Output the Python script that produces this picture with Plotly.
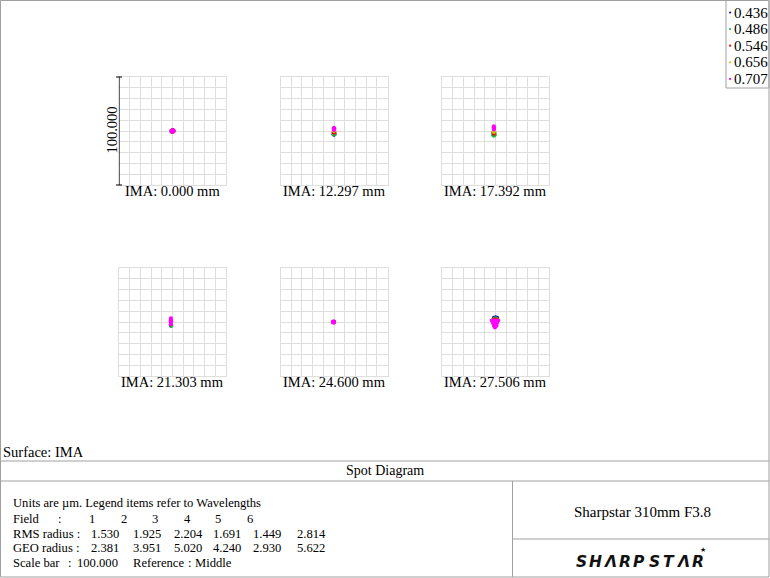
import plotly.graph_objects as go

W, H = 770, 578

FIELD_LABELS = ["IMA: 0.000 mm", "IMA: 12.297 mm", "IMA: 17.392 mm",
                "IMA: 21.303 mm", "IMA: 24.600 mm", "IMA: 27.506 mm"]
WAVELENGTHS = ["0.436", "0.486", "0.546", "0.656", "0.707"]
WAVE_COLORS = ["#1010b8", "#22bb44", "#e01010", "#c8c800", "#ff00ff"]

# Spot points in micrometres, indexed [field][wavelength]
SPOT_X = [
    [[-1, 1, 0, 0, 0], [-1, 1, 0, 0, 0], [-1, 1, 0, 0, 0], [-1, 1, 0, 0, 0], [-1, 1, 0, 0, 0, 0.8, -0.8]],
    [[0, 0.5, -0.5], [0, -0.5, 0.5], [0, -0.5, 0.5], [0, 0], [0, 0, 0, 0.4, -0.4]],
    [[-1.5, -1.5], [-2.5, -0.5, -1.5], [-2, -1, -1.5], [-1.5, -1.5], [-1.5, -1.5, -1.5, -1.2, -1.8]],
    [[-1.5], [-1.5, -1], [-1.5], [-1.5], [-1.5, -1.5, -1.5, -1.5, -1.2, -1.8]],
    [[-0.5, 0], [-0.5, 0], [-0.5, 0], [-0.5, 0], [-0.5, -0.5, -1.2, 0.2, -0.5]],
    [[-1.5, 0, 1.5, -0.5, 0.5], [-1, 0, 1], [-2, 0, 2], [-3, 0, 2.5],
     [-3.5, -1.5, 0.5, 2.5, -2.5, -0.5, 1.5, -1.5, 0, 1, -0.5]],
]
SPOT_Y = [
    [[0, 0, 1, -1, 0], [0, 0, 1, -1, 0], [0, 0, 1, -1, 0], [0, 0, 1, -1, 0], [0, 0, 1, -1, 0, 0.8, -0.8]],
    [[-3.5, -3, -3], [-2.5, -3, -3], [-1, -1.5, -1.5], [0, 0.8], [1, 2, 3, 2, 2]],
    [[-4, -3], [-3.5, -3.5, -4.5], [-1.5, -1.5, -2.5], [0, -1], [1.5, 3, 4.5, 3, 3]],
    [[-3.5], [-3, -3.5], [-2], [-1], [-2, 0, 2, 3.5, 1, 1]],
    [[0, 0], [0, 0], [0, 0], [0, 0], [0.8, -0.8, 0, 0, 0]],
    [[4, 4.5, 4, 3.5, 3.5], [3, 3.5, 3], [2, 2.5, 2], [1.5, 1, 1.5],
     [1.5, 1.5, 1.5, 1.5, -1, -1, -1, -3.5, -3.5, -3.5, -5]],
]

FIELD_NUMBERS = ["1", "2", "3", "4", "5", "6"]
RMS_RADIUS = ["1.530", "1.925", "2.204", "1.691", "1.449", "2.814"]
GEO_RADIUS = ["2.381", "3.951", "5.020", "4.240", "2.930", "5.622"]
SCALE_BAR = "100.000"
REFERENCE = "Middle"
SURFACE = "IMA"
TITLE = "Spot Diagram"
LENS_NAME = "Sharpstar 310mm F3.8"
LOGO = "SHΛRPSTΛR"

FONT = "Liberation Serif"


def px(x):
    return x / W


def py(y):
    return 1 - y / H


fig = go.Figure()

# panel geometry (pixels)
PANEL_X0 = [119, 280.5, 442]
PANEL_Y0 = [77, 268]
PANEL_W, PANEL_H = 107, 108
GRID = "#dedede"

annotations = []
shapes = []

for f in range(6):
    r, c = divmod(f, 3)
    x0 = PANEL_X0[c]
    y0 = PANEL_Y0[r]
    n = f + 1
    xa = "xaxis" if n == 1 else f"xaxis{n}"
    ya = "yaxis" if n == 1 else f"yaxis{n}"
    xref = "x" if n == 1 else f"x{n}"
    yref = "y" if n == 1 else f"y{n}"
    common = dict(range=[-50, 50], dtick=10, tick0=0, showgrid=True, gridcolor=GRID,
                  gridwidth=1, zeroline=True, zerolinecolor=GRID, zerolinewidth=1,
                  showline=True, linecolor=GRID, linewidth=1, mirror=True,
                  showticklabels=False, ticks="", fixedrange=True)
    fig.layout[xa] = dict(domain=[px(x0), px(x0 + PANEL_W)], anchor=yref, **common)
    fig.layout[ya] = dict(domain=[py(y0 + PANEL_H), py(y0)], anchor=xref, **common)
    for w in range(5):
        fig.add_trace(go.Scatter(
            x=SPOT_X[f][w], y=SPOT_Y[f][w], mode="markers", xaxis=xref, yaxis=yref,
            marker=dict(color=WAVE_COLORS[w], size=4, line=dict(width=0)),
            name=WAVELENGTHS[w], showlegend=False, hoverinfo="skip"))
    annotations.append(dict(
        text=FIELD_LABELS[f], xref="paper", yref="paper",
        x=px(x0 + PANEL_W / 2), y=py(y0 + PANEL_H + 6), xanchor="center", yanchor="middle",
        showarrow=False, font=dict(family=FONT, size=14.5, color="black")))

# scale bar on first panel
shapes.append(dict(type="line", xref="x", yref="y", x0=-50, x1=-50, y0=-50, y1=50,
                   line=dict(color="black", width=1.2)))
for yy in (77, 185):
    shapes.append(dict(type="line", xref="paper", yref="paper",
                       x0=px(116), x1=px(122), y0=py(yy), y1=py(yy),
                       line=dict(color="black", width=1)))
annotations.append(dict(text=SCALE_BAR, xref="paper", yref="paper", x=px(111.5), y=py(130),
                        xanchor="center", yanchor="middle", textangle=-90, showarrow=False,
                        font=dict(family=FONT, size=14.5, color="black")))

# legend box
LINE = "#a0a0a0"
shapes.append(dict(type="rect", xref="paper", yref="paper", x0=px(726), x1=px(769),
                   y0=py(88), y1=py(0.5), line=dict(color=LINE, width=1)))
for i, (wl, col) in enumerate(zip(WAVELENGTHS, WAVE_COLORS)):
    yy = 12.5 + 16.6 * i
    shapes.append(dict(type="circle", xref="paper", yref="paper",
                       x0=px(729), x1=px(731.2), y0=py(yy + 1.1), y1=py(yy - 1.1),
                       fillcolor=col, line=dict(width=0)))
    annotations.append(dict(text=wl, xref="paper", yref="paper", x=px(731.5), y=py(yy),
                            xanchor="left", yanchor="middle", showarrow=False,
                            font=dict(family=FONT, size=15, color="black")))

# frame and table lines
shapes.append(dict(type="rect", xref="paper", yref="paper", x0=px(0.5), x1=px(769),
                   y0=py(577), y1=py(0.5), line=dict(color=LINE, width=1)))
for yy in (461, 481):
    shapes.append(dict(type="line", xref="paper", yref="paper", x0=px(0.5), x1=px(769),
                       y0=py(yy), y1=py(yy), line=dict(color=LINE, width=1)))
shapes.append(dict(type="line", xref="paper", yref="paper", x0=px(512.5), x1=px(512.5),
                   y0=py(481), y1=py(577), line=dict(color=LINE, width=1)))
shapes.append(dict(type="line", xref="paper", yref="paper", x0=px(512.5), x1=px(769),
                   y0=py(539), y1=py(539), line=dict(color=LINE, width=1)))


def txt(s, x, y, size=12.6, anchor="left", family=FONT, color="black"):
    annotations.append(dict(text=s, xref="paper", yref="paper", x=px(x), y=py(y),
                            xanchor=anchor, yanchor="middle", showarrow=False,
                            font=dict(family=family, size=size, color=color)))


txt("Surface: " + SURFACE, 1, 452, size=14.5)
txt(TITLE, 385, 470, size=14, anchor="center")
txt("Units are µm. Legend items refer to Wavelengths", 11, 503)
txt("Field", 11, 519)
txt(":", 56, 519)
NUM_X = [87, 118.5, 150, 181.5, 213, 244.5]
VAL_X = [89, 131, 171.5, 211, 251, 294.5]
for i in range(6):
    txt(FIELD_NUMBERS[i], NUM_X[i], 519)
    txt(RMS_RADIUS[i], VAL_X[i], 533.5)
    txt(GEO_RADIUS[i], VAL_X[i], 548)
txt("RMS radius :", 11, 533.5)
txt("GEO radius :", 11, 548)
txt("Scale bar", 11, 563)
txt(":", 66, 563)
txt(SCALE_BAR, 75, 563)
txt("Reference", 131, 563)
txt(":", 186, 563)
txt(REFERENCE, 193, 563)
txt(LENS_NAME, 642, 512, size=15, anchor="center")

# logo letters
for i, ch in enumerate(LOGO):
    annotations.append(dict(text="<b><i>" + ch + "</i></b>", xref="paper", yref="paper",
                            x=px(581 + i * 14.6), y=py(562), xanchor="center", yanchor="middle",
                            showarrow=False,
                            font=dict(family="DejaVu Sans", size=15.5, color="#111111")))
annotations.append(dict(text="★", xref="paper", yref="paper", x=px(703), y=py(550),
                        xanchor="center", yanchor="middle", showarrow=False,
                        font=dict(family="DejaVu Sans", size=7, color="#111111")))

fig.update_layout(width=W, height=H, margin=dict(l=0, r=0, t=0, b=0),
                  paper_bgcolor="white", plot_bgcolor="white",
                  showlegend=False, annotations=annotations, shapes=shapes)

fig.write_html("out.html", config={"displayModeBar": False},
               post_script="document.body.style.margin='0';")
